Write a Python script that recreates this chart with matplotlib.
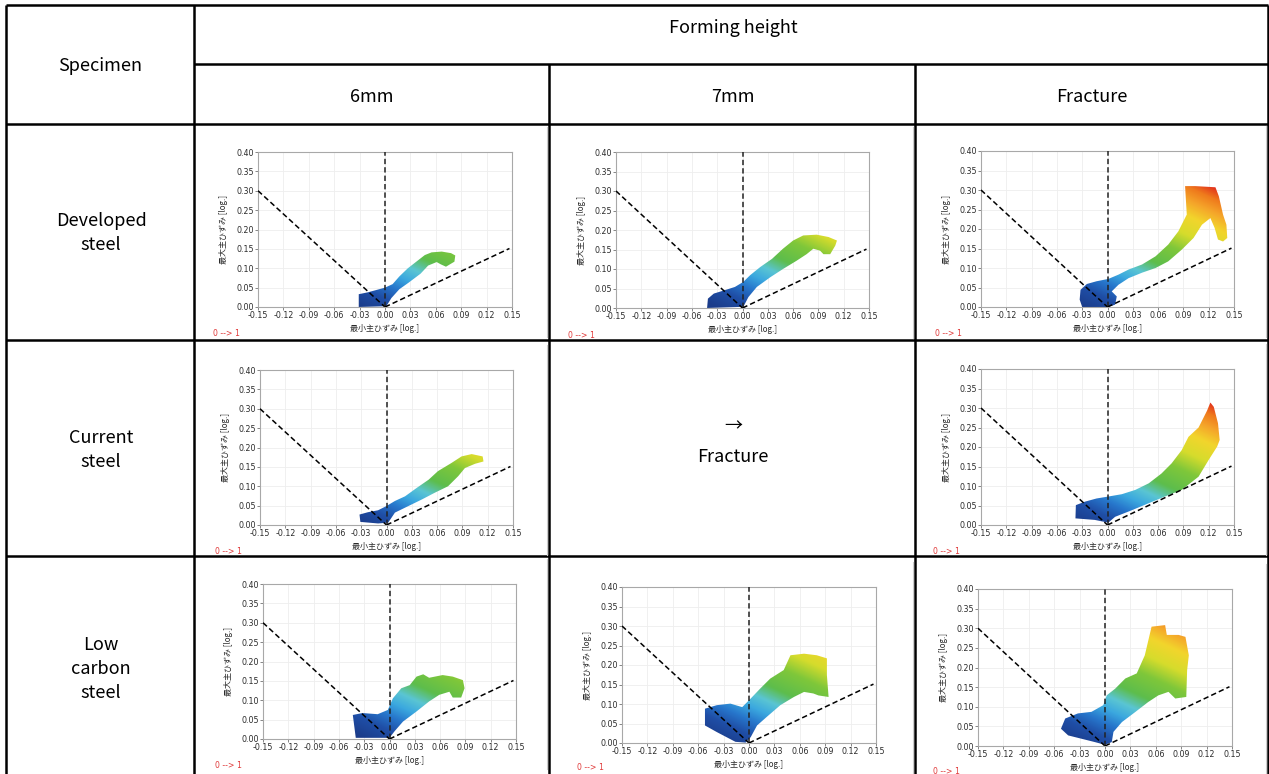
import numpy as np
import matplotlib
matplotlib.use("Agg")
import matplotlib.pyplot as plt
from matplotlib.patches import Polygon
from matplotlib.colors import LinearSegmentedColormap, Normalize

plt.rcParams['font.family'] = ['Noto Sans CJK JP', 'DejaVu Sans']

# ---------------- data ----------------
specimens = ["Developed\nsteel", "Current\nsteel", "Low\ncarbon\nsteel"]
heights = ["6mm", "7mm", "Fracture"]
x_ticks = [-0.15, -0.12, -0.09, -0.06, -0.03, 0.00, 0.03, 0.06, 0.09, 0.12, 0.15]
y_ticks = [0.00, 0.05, 0.10, 0.15, 0.20, 0.25, 0.30, 0.35, 0.40]
x_label = "最小主ひずみ [log.]"
y_label = "最大主ひずみ [log.]"

# reference strain paths (dashed lines)
left_path_x = [-0.15, 0.0]
left_path_y = [0.30, 0.0]
plane_path_x = [0.0, 0.0]
plane_path_y = [0.0, 0.40]
right_path_x = [0.0, 0.147]
right_path_y = [0.0, 0.151]

# outlines of the measured point clouds (minor strain, major strain)
dev6_x = [-0.031, -0.031, -0.020, -0.010, 0.000, 0.009, 0.017, 0.027, 0.037, 0.047, 0.055, 0.067, 0.078, 0.083, 0.082, 0.072, 0.066, 0.061, 0.051, 0.042, 0.028, 0.017, 0.0075, 0.0016]
dev6_y = [0.000, 0.033, 0.038, 0.044, 0.050, 0.059, 0.079, 0.100, 0.117, 0.134, 0.141, 0.143, 0.139, 0.133, 0.117, 0.104, 0.110, 0.116, 0.107, 0.086, 0.063, 0.046, 0.023, 0.002]

dev7_x = [-0.042, -0.041, -0.034, -0.022, -0.009, 0.001, 0.009, 0.021, 0.035, 0.048, 0.060, 0.072, 0.088, 0.102, 0.112, 0.110, 0.104, 0.096, 0.092, 0.084, 0.076, 0.064, 0.048, 0.033, 0.017, 0.007, 0.001]
dev7_y = [0.000, 0.024, 0.037, 0.045, 0.054, 0.067, 0.084, 0.105, 0.126, 0.152, 0.173, 0.186, 0.188, 0.182, 0.173, 0.160, 0.138, 0.138, 0.147, 0.152, 0.138, 0.121, 0.100, 0.079, 0.054, 0.028, 0.003]

devF_x = [-0.030, -0.033, -0.032, -0.0245, -0.013, 0.001, 0.013, 0.025, 0.041, 0.057, 0.072, 0.084, 0.094, 0.092, 0.104, 0.128, 0.132, 0.137, 0.141, 0.142, 0.137, 0.131, 0.127, 0.122, 0.112, 0.102, 0.088, 0.072, 0.057, 0.041, 0.025, 0.013, 0.005, 0.011, 0.009, 0.001]
devF_y = [0.000, 0.019, 0.044, 0.059, 0.066, 0.072, 0.083, 0.096, 0.109, 0.130, 0.160, 0.194, 0.237, 0.310, 0.310, 0.307, 0.284, 0.237, 0.211, 0.177, 0.168, 0.173, 0.203, 0.228, 0.211, 0.177, 0.147, 0.117, 0.100, 0.088, 0.074, 0.057, 0.040, 0.027, 0.006, 0.000]

cur6_x = [-0.031, -0.032, -0.022, -0.010, 0.000, 0.010, 0.022, 0.036, 0.050, 0.061, 0.077, 0.089, 0.101, 0.114, 0.115, 0.105, 0.093, 0.085, 0.073, 0.057, 0.042, 0.026, 0.010, 0.002, -0.010]
cur6_y = [0.008, 0.027, 0.033, 0.038, 0.049, 0.062, 0.074, 0.096, 0.117, 0.139, 0.160, 0.177, 0.183, 0.177, 0.164, 0.158, 0.147, 0.126, 0.100, 0.083, 0.066, 0.049, 0.032, 0.006, 0.004]

curF_x = [-0.038, -0.0375, -0.0265, -0.013, 0.001, 0.017, 0.033, 0.049, 0.064, 0.076, 0.088, 0.096, 0.108, 0.118, 0.122, 0.126, 0.131, 0.133, 0.130, 0.120, 0.108, 0.088, 0.068, 0.049, 0.029, 0.009, 0.001, -0.015]
curF_y = [0.017, 0.051, 0.060, 0.068, 0.073, 0.079, 0.090, 0.107, 0.132, 0.158, 0.192, 0.226, 0.250, 0.293, 0.314, 0.303, 0.261, 0.218, 0.201, 0.167, 0.124, 0.090, 0.073, 0.056, 0.038, 0.021, 0.006, 0.013]

low6_x = [-0.040, -0.0435, -0.032, -0.014, -0.002, 0.004, 0.014, 0.024, 0.032, 0.040, 0.047, 0.063, 0.075, 0.087, 0.089, 0.085, 0.075, 0.071, 0.059, 0.047, 0.032, 0.016, 0.006, 0.000]
low6_y = [0.003, 0.062, 0.067, 0.064, 0.075, 0.105, 0.131, 0.139, 0.161, 0.167, 0.158, 0.165, 0.161, 0.152, 0.131, 0.107, 0.107, 0.122, 0.114, 0.097, 0.071, 0.045, 0.020, 0.003]

low7_x = [-0.016, -0.038, -0.052, -0.052, -0.038, -0.022, -0.008, 0.002, 0.013, 0.025, 0.041, 0.049, 0.065, 0.080, 0.092, 0.092, 0.094, 0.082, 0.076, 0.065, 0.053, 0.037, 0.021, 0.0095, 0.002, -0.004]
low7_y = [0.003, 0.028, 0.045, 0.088, 0.097, 0.101, 0.092, 0.114, 0.139, 0.165, 0.187, 0.225, 0.229, 0.225, 0.217, 0.174, 0.118, 0.122, 0.127, 0.131, 0.118, 0.097, 0.067, 0.045, 0.015, 0.001]

lowF_x = [-0.012, -0.0435, -0.052, -0.047, -0.032, -0.016, -0.002, 0.002, 0.012, 0.024, 0.0375, 0.047, 0.055, 0.071, 0.073, 0.087, 0.095, 0.099, 0.097, 0.096, 0.083, 0.075, 0.063, 0.051, 0.036, 0.020, 0.010, 0.008, 0.000]
lowF_y = [0.010, 0.027, 0.044, 0.070, 0.083, 0.087, 0.104, 0.129, 0.146, 0.172, 0.185, 0.231, 0.304, 0.308, 0.283, 0.283, 0.278, 0.231, 0.193, 0.125, 0.121, 0.138, 0.129, 0.112, 0.087, 0.061, 0.036, 0.010, 0.003]

panel_clouds = [
    [(dev6_x, dev6_y), (dev7_x, dev7_y), (devF_x, devF_y)],
    [(cur6_x, cur6_y), None, (curF_x, curF_y)],
    [(low6_x, low6_y), (low7_x, low7_y), (lowF_x, lowF_y)],
]

# colour scale: thinning level (minor + major strain) -> colour
scale_levels = [-0.03, 0.02, 0.06, 0.095, 0.13, 0.17, 0.23, 0.28, 0.33, 0.37, 0.405, 0.44]
scale_colors = ['#1b3c8a', '#1f4ea6', '#2777cc', '#3ba8df', '#5ac5d3', '#5dbd4c',
                '#7fc73a', '#d6dc2c', '#f2d52c', '#f5a52a', '#ef7a1c', '#e0261c']

# ---------------- layout (pixels) ----------------
W, H = 1269, 774
fig = plt.figure(figsize=(W / 100, H / 100), dpi=100)
fig.patch.set_facecolor('white')

bg = fig.add_axes([0, 0, 1, 1])
bg.set_xlim(0, W)
bg.set_ylim(H, 0)
bg.axis('off')

lw_tab = 1.8
def hline(y, x0, x1):
    bg.plot([x0, x1], [y, y], color='black', lw=lw_tab, solid_capstyle='butt')
def vline(x, y0, y1):
    bg.plot([x, x], [y0, y1], color='black', lw=lw_tab, solid_capstyle='butt')

hline(5, 6, 1268)
hline(64, 194, 1268)
hline(124, 6, 1268)
hline(340, 6, 1268)
hline(556, 6, 1268)
vline(6, 5, 774)
vline(194, 5, 774)
vline(549, 64, 774)
vline(915, 64, 774)
vline(1268, 5, 774)

txt_kw = dict(ha='center', va='center', color='black', fontsize=13)
bg.text(100, 66, "Specimen", **txt_kw)
bg.text(733, 28, "Forming height", **txt_kw)
for cx, h in zip([372, 733, 1092], heights):
    bg.text(cx, 97, h, **txt_kw)
for cy, s in zip([233, 450, 669], specimens):
    bg.text(101, cy, s, linespacing=1.45, **txt_kw)
bg.text(733, 426, "→", **txt_kw)
bg.text(733, 457, "Fracture", **txt_kw)

# axes boxes: left, right, top, bottom in pixels
boxes = [
    [(258, 512, 152, 307), (616, 869, 152, 308), (981, 1234, 151, 307)],
    [(260, 513, 370, 525), None, (981, 1234, 369, 525)],
    [(263, 516, 584, 739), (622, 876, 587, 743), (978, 1232, 589, 746)],
]
red_pos = [
    [(213, 334), (568, 335), (935, 334)],
    [(215, 552), None, (933, 551)],
    [(215, 766), (577, 768), (933, 771)],
]
img_right = [547, 913, 1266]

vmin, vmax = scale_levels[0], scale_levels[-1]
cmap = LinearSegmentedColormap.from_list(
    "strain", [((v - vmin) / (vmax - vmin), col) for v, col in zip(scale_levels, scale_colors)])
norm = Normalize(vmin=vmin, vmax=vmax)

gx = np.linspace(-0.15, 0.15, 301)
gy = np.linspace(0.0, 0.40, 401)
GX, GY = np.meshgrid(gx, gy)
field = GX + GY

for r in range(3):
    for c in range(3):
        box = boxes[r][c]
        if box is None:
            continue
        L, R, T, B = box
        ax = fig.add_axes([L / W, 1 - B / H, (R - L) / W, (B - T) / H])
        ax.set_xlim(-0.15, 0.15)
        ax.set_ylim(0, 0.40)
        ax.set_xticks(x_ticks)
        ax.set_yticks(y_ticks)
        ax.set_xticklabels([f"{v:.2f}" for v in x_ticks], family='DejaVu Sans')
        ax.set_yticklabels([f"{v:.2f}" for v in y_ticks], family='DejaVu Sans')
        ax.tick_params(labelsize=5.7, length=2, width=0.5, pad=1, colors='#555555', labelcolor='#2a2a2a')
        ax.grid(True, color='#eeeeee', lw=0.6)
        ax.set_axisbelow(True)
        for sp in ax.spines.values():
            sp.set_color('#a8a8a8')
            sp.set_linewidth(0.8)
        ax.set_xlabel(x_label, fontsize=5.8, color='#2a2a2a', labelpad=3)
        ax.set_ylabel(y_label, fontsize=5.8, color='#2a2a2a', labelpad=6)

        cx, cy = panel_clouds[r][c]
        im = ax.imshow(field, extent=[-0.15, 0.15, 0.0, 0.40], origin='lower',
                       aspect='auto', cmap=cmap, norm=norm, zorder=2,
                       interpolation='bilinear')
        poly = Polygon(np.column_stack([cx, cy]), closed=True,
                       transform=ax.transData, facecolor='none', edgecolor='none')
        ax.add_patch(poly)
        im.set_clip_path(poly)

        ax.plot(left_path_x, left_path_y, color='black', lw=1.1, ls=(0, (3.5, 2)), zorder=3)
        ax.plot(plane_path_x, plane_path_y, color='#222222', lw=1.1, ls=(0, (3.5, 2)), zorder=3)
        ax.plot(right_path_x, right_path_y, color='black', lw=1.1, ls=(0, (3.5, 2)), zorder=3)

        rx, ry = red_pos[r][c]
        bg.text(rx, ry, "0 --> 1", color='#e03a3a', fontsize=5.6,
                ha='left', va='center', family='DejaVu Sans')
        bg.plot([img_right[c], img_right[c]], [T - 25, B + 30], color='#cccccc', lw=0.8)

fig.savefig("out.png", dpi=100)
